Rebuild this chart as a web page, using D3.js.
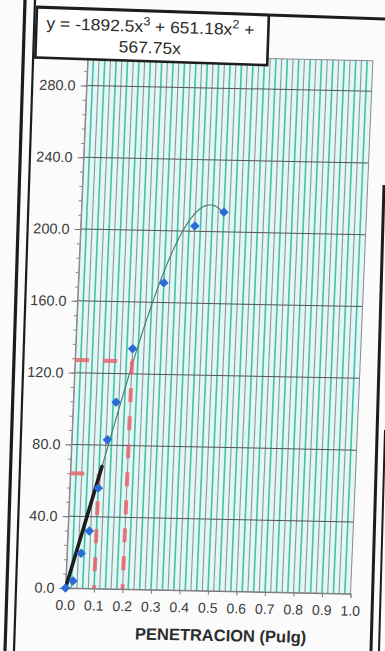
<!DOCTYPE html>
<html><head><meta charset="utf-8">
<script src="https://cdn.jsdelivr.net/npm/d3@7"></script>
<style>
html,body{margin:0;padding:0;background:#fbfbfb;}
svg{display:block;font-family:"Liberation Sans",Arial,sans-serif;}
</style>
</head><body><div id="chart"></div>
<script>
// ---- data ----
const penetration = [0, 0.025, 0.05, 0.075, 0.1, 0.125, 0.15, 0.2, 0.3, 0.4, 0.5];
const load        = [0, 4, 19.5, 32, 56, 83, 104, 134, 171, 203, 211];
// displayed trendline: y = -1892.5x^3 + 651.18x^2 + 567.75x
const trendCoeffs = [0, 567.75, 651.18, -1892.5];
const trendRange  = [0, 0.5];
const tangentX = [0, 0.11];
const tangentY = [0, 68];
const guide1X = [0, 0.1, 0.1];
const guide1Y = [64, 64, 0];
const guide2X = [0, 0.2, 0.2];
const guide2Y = [127, 127, 0];
const xTicks = [0, 0.1, 0.2, 0.3, 0.4, 0.5, 0.6, 0.7, 0.8, 0.9, 1.0];
const yTicks = [0, 40, 80, 120, 160, 200, 240, 280];
const xTitle = "PENETRACION (Pulg)";
const eqLine1 = ["y = -1892.5x", "3", " + 651.18x", "2", " +"];
const eqLine2 = "567.75x";

const W = 385, H = 651;
const svg = d3.select("#chart").append("svg").attr("width", W).attr("height", H);
svg.append("rect").attr("width", W).attr("height", H).attr("fill", "#fbfbfb");

// photo frame lines (page decoration)
const frameLines = [
  {p: [[25, 0], [5, 651]], w: 3.2},
  {p: [[35, 0], [14, 651]], w: 2.2},
  {p: [[36, 7], [385, 19]], w: 3.2},
  {p: [[384, 185], [371, 651]], w: 3},
  {p: [[385, 430], [379, 651]], w: 2}
];
svg.selectAll("line.frame").data(frameLines).join("line")
  .attr("class", "frame")
  .attr("x1", d => d.p[0][0]).attr("y1", d => d.p[0][1])
  .attr("x2", d => d.p[1][0]).attr("y2", d => d.p[1][1])
  .attr("stroke", "#1c1c1c").attr("stroke-width", d => d.w);

// plot group: slightly skewed like the photographed page
const pw = 285, ph = 533;
const g = svg.append("g").attr("transform", "matrix(1,0.02,-0.042,1,65.5,588)");
const x = d3.scaleLinear().domain([0, 1]).range([0, pw]);
const y = d3.scaleLinear().domain([0, 297]).range([0, -ph]);

g.append("rect").attr("x", 0).attr("y", -ph).attr("width", pw).attr("height", ph)
  .attr("fill", "#e4f7f4");

// dense vertical gridlines
const vGrid = d3.range(1, 50).map(i => i / 50);
g.selectAll("line.vg").data(vGrid).join("line")
  .attr("class", "vg")
  .attr("x1", d => x(d)).attr("x2", d => x(d))
  .attr("y1", 0).attr("y2", -ph)
  .attr("stroke", (d, i) => i % 2 === 0 ? "#45c1aa" : "#84999c")
  .attr("stroke-width", (d, i) => i % 2 === 0 ? 1.6 : 1.1);

// horizontal major gridlines
g.selectAll("line.hg").data(yTicks.filter(d => d > 0)).join("line")
  .attr("class", "hg")
  .attr("x1", 0).attr("x2", pw)
  .attr("y1", d => y(d)).attr("y2", d => y(d))
  .attr("stroke", "#555").attr("stroke-width", 1);

g.append("rect").attr("x", 0).attr("y", -ph).attr("width", pw).attr("height", ph)
  .attr("fill", "none").attr("stroke", "#8a8a8a").attr("stroke-width", 1);

// axes
const yMinor = g.append("g").call(d3.axisLeft(y).tickValues(d3.range(0, 297, 8)).tickSize(3).tickFormat(""));
yMinor.select(".domain").remove();
yMinor.selectAll("line").attr("stroke", "#888");

const yAxis = g.append("g").call(d3.axisLeft(y).tickValues(yTicks).tickSize(6).tickPadding(5)
  .tickFormat(d3.format(".1f")));
yAxis.select(".domain").attr("stroke", "#888");
yAxis.selectAll("line").attr("stroke", "#777");
yAxis.selectAll("text").attr("font-size", "14.5px").attr("fill", "#3c3c3c")
  .attr("font-family", "Liberation Sans, Arial, sans-serif");

const xAxis = g.append("g").call(d3.axisBottom(x).tickValues(xTicks).tickSize(4).tickPadding(8)
  .tickFormat(d3.format(".1f")));
xAxis.select(".domain").attr("stroke", "#777");
xAxis.selectAll("line").attr("stroke", "#777");
xAxis.selectAll("text").attr("font-size", "14px").attr("fill", "#3c3c3c")
  .attr("font-family", "Liberation Sans, Arial, sans-serif");

g.append("text").attr("x", 157).attr("y", 50).attr("text-anchor", "middle")
  .attr("font-size", "16.5px").attr("font-weight", "bold").attr("fill", "#2c2c2c")
  .text(xTitle);

// trendline from the displayed equation
const trendX = d3.range(trendRange[0], trendRange[1] + 1e-9, 0.005);
const poly = v => trendCoeffs.reduce((s, c, k) => s + c * Math.pow(v, k), 0);
g.append("path").datum(trendX.map(v => [v, poly(v)]))
  .attr("d", d3.line().x(d => x(d[0])).y(d => y(d[1])).curve(d3.curveMonotoneX))
  .attr("fill", "none").attr("stroke", "#4d7f76").attr("stroke-width", 1.2);

// red dashed guide lines
[[guide1X, guide1Y], [guide2X, guide2Y]].forEach(([gx, gy]) => {
  g.append("path").datum(gx.map((v, i) => [v, gy[i]]))
    .attr("d", d3.line().x(d => x(d[0])).y(d => y(d[1])))
    .attr("fill", "none").attr("stroke", "#e7646d").attr("stroke-opacity", 0.85)
    .attr("stroke-width", 4).attr("stroke-dasharray", "14,14");
});

// black straight line
g.append("path").datum(tangentX.map((v, i) => [v, tangentY[i]]))
  .attr("d", d3.line().x(d => x(d[0])).y(d => y(d[1])))
  .attr("fill", "none").attr("stroke", "#1d1d1d").attr("stroke-width", 3.6)
  .attr("stroke-linecap", "round");

// markers
const sym = d3.symbol().type(d3.symbolDiamond2).size(58);
g.selectAll("path.pt").data(penetration.map((v, i) => [v, load[i]])).join("path")
  .attr("class", "pt")
  .attr("transform", d => `translate(${x(d[0])},${y(d[1])})`)
  .attr("d", sym).attr("fill", "#2a6bd8");

// equation box
const box = svg.append("g").attr("transform", "translate(37,7.5) rotate(1.9)");
box.append("rect").attr("x", 0).attr("y", 0).attr("width", 232).attr("height", 50)
  .attr("fill", "#ffffff").attr("stroke", "#1e1e1e").attr("stroke-width", 2.6);
const eq = box.append("g").attr("transform", "translate(114,0) scale(1.06,1)");
const t1 = eq.append("text").attr("x", 0).attr("y", 21).attr("text-anchor", "middle")
  .attr("font-size", "16.5px").attr("fill", "#2c2c2c");
eqLine1.forEach((s, i) => {
  const ts = t1.append("tspan").text(s);
  if (i % 2 === 1) ts.attr("font-size", "12px").attr("baseline-shift", "super");
});
eq.append("text").attr("x", 0).attr("y", 42).attr("text-anchor", "middle")
  .attr("font-size", "16.5px").attr("fill", "#2c2c2c").text(eqLine2);
</script>
</body></html>
